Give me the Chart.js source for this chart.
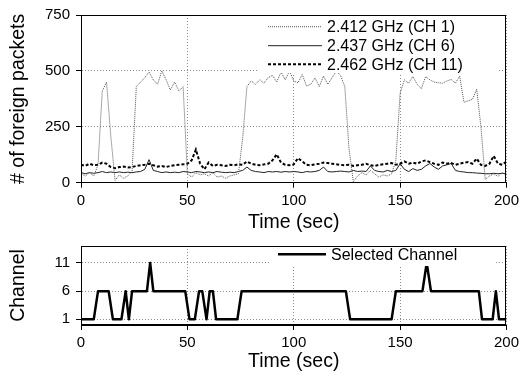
<!DOCTYPE html>
<html>
<head>
<meta charset="utf-8">
<script src="https://cdn.jsdelivr.net/npm/chart.js@4.4.1/dist/chart.umd.min.js"></script>
<style>
  html, body { margin: 0; padding: 0; background: #fff; }
  #wrap { position: relative; width: 523px; height: 377px; overflow: hidden; }
  #top { position: absolute; left: 0; top: 0; }
  #bottom { position: absolute; left: 0; top: 231px; }
</style>
</head>
<body>
<div id="wrap">
  <canvas id="top" width="523" height="238" style="width:523px;height:238px"></canvas>
  <canvas id="bottom" width="523" height="146" style="width:523px;height:146px"></canvas>
</div>
<script>
// Data

const times = [
  0, 2, 4, 6, 8, 10, 12, 14, 16, 18,
  20, 22, 24, 26, 28, 30, 32, 34, 36, 38,
  40, 42, 44, 46, 48, 50, 52, 54, 56, 58,
  60, 62, 64, 66, 68, 70, 72, 74, 76, 78,
  80, 82, 84, 86, 88, 90, 92, 94, 96, 98,
  100, 102, 104, 106, 108, 110, 112, 114, 116, 118,
  120, 122, 124, 126, 128, 130, 132, 134, 136, 138,
  140, 142, 144, 146, 148, 150, 152, 154, 156, 158,
  160, 162, 164, 166, 168, 170, 172, 174, 176, 178,
  180, 182, 184, 186, 188, 190, 192, 194, 196, 198,
  200
];

const ch1 = [
  40, 30, 45, 30, 80, 410, 450, 210, 10, 35,
  20, 30, 50, 430, 450, 470, 495, 460, 440, 500,
  460, 415, 450, 410, 430, 40, 25, 45, 35, 40,
  30, 45, 25, 30, 20, 30, 35, 40, 200, 430,
  455, 440, 460, 445, 470, 480, 450, 495, 460, 500,
  455, 447, 484, 432, 440, 469, 430, 477, 440, 470,
  499, 480, 430, 150, 5, 30, 45, 35, 55, 40,
  25, 35, 30, 40, 100, 400, 460, 445, 475, 440,
  420, 475, 460, 450, 447, 445, 455, 462, 445, 477,
  360, 366, 373, 418, 250, 15, 30, 40, 28, 45,
  35
];

const ch6 = [
  45, 40, 45, 42, 45, 50, 45, 48, 45, 48,
  45, 47, 45, 48, 50, 60, 103, 55, 50, 45,
  48, 45, 47, 45, 50, 48, 45, 50, 48, 45,
  48, 45, 50, 47, 45, 47, 45, 50, 55, 70,
  55, 50, 48, 45, 50, 48, 50, 47, 50, 48,
  50, 48, 45, 50, 48, 50, 55, 70, 50, 48,
  50, 52, 50, 48, 55, 50, 52, 50, 75, 55,
  50, 48, 55, 50, 55, 85, 60, 50, 63, 55,
  60, 75, 86, 70, 60, 75, 80, 86, 55, 50,
  48, 45, 45, 43, 42, 40, 40, 42, 40, 42,
  40
];

const ch11 = [
  80, 75, 85, 78, 80, 90, 85, 70, 65, 70,
  72, 68, 70, 75, 78, 80, 85, 78, 72, 75,
  70, 75, 78, 80, 82, 85, 100, 148, 85, 60,
  90, 75, 80, 78, 75, 80, 78, 82, 80, 95,
  85, 80, 78, 82, 85, 100, 127, 90, 80, 78,
  82, 110, 95, 80, 78, 82, 85, 90, 88, 85,
  82, 80, 78, 80, 75, 78, 80, 85, 78, 75,
  80, 82, 85, 88, 80, 85, 95, 85, 90, 85,
  95, 100, 92, 85, 80, 90, 85, 88, 80, 85,
  90, 92, 85, 108, 80, 75, 85, 120, 85, 80,
  95
];

const chanTimes = [0, 6, 8, 13, 15, 19, 21, 22.5, 24, 31, 32.5, 34, 49, 51, 53.5, 55.5, 57, 59, 60.5, 62,
  63.5, 73.5, 75.5, 124.5, 126.5, 146, 148, 160.5, 162.5, 164.5, 187, 188.5, 193.5, 195, 196.5, 200];
const chanValues = [1, 1, 6, 6, 1, 1, 6, 1, 6, 6, 11, 6, 6, 1, 1, 6, 6, 1, 6, 6,
  1, 1, 6, 6, 1, 1, 6, 6, 11, 6, 6, 1, 1, 6, 1, 1];

const seriesNames = ['2.412 GHz (CH 1)', '2.437 GHz (CH 6)', '2.462 GHz (CH 11)'];
const chanName = 'Selected Channel';
const packetTicks = [0, 250, 500, 750];
const timeTicks = [0, 50, 100, 150, 200];
const channelTicks = [1, 6, 11];

// helpers

const FONT = "'Liberation Sans', Arial, Helvetica, sans-serif";
Chart.defaults.font.family = FONT;
Chart.defaults.color = '#000';

const pts = (xs, ys) => xs.map((x, i) => ({ x: x, y: ys[i] }));

// black frame round the plot area
const framePlugin = {
  id: 'frame',
  afterDraw(chart) {
    const a = chart.chartArea;
    const ctx = chart.ctx;
    ctx.save();
    ctx.strokeStyle = '#000';
    ctx.lineWidth = 1;
    ctx.strokeRect(Math.round(a.left) + 0.5, Math.round(a.top) + 0.5,
      Math.round(a.right - a.left) - 1, Math.round(a.bottom - a.top) - 1);
    ctx.restore();
  }
};

// gnuplot-like key with a white box, drawn inside the plot
function keyPlugin(box, rows) {
  return {
    id: 'key',
    afterDatasetsDraw(chart) {
      const ctx = chart.ctx;
      ctx.save();
      ctx.fillStyle = '#fff';
      ctx.fillRect(box.x, box.y, box.w, box.h);
      ctx.font = '16px ' + FONT;
      ctx.textBaseline = 'middle';
      rows.forEach(r => {
        const ds = chart.data.datasets[r.index];
        ctx.strokeStyle = ds.borderColor;
        ctx.lineWidth = ds.borderWidth;
        ctx.setLineDash(ds.borderDash || []);
        ctx.beginPath();
        ctx.moveTo(r.x1, r.y);
        ctx.lineTo(r.x2, r.y);
        ctx.stroke();
        ctx.setLineDash([]);
        ctx.fillStyle = '#000';
        ctx.fillText(ds.label, r.x2 + 5, r.y + 1);
      });
      ctx.restore();
    }
  };
}

function axisX(height) {
  return {
    type: 'linear',
    min: 0,
    max: 200,
    afterBuildTicks: s => { s.ticks = timeTicks.map(v => ({ value: v })); },
    afterFit: s => { s.height = height; },
    ticks: { font: { size: 15 }, padding: 4, maxRotation: 0 },
    grid: { color: '#8a8a8a', tickColor: '#000', tickLength: 5, lineWidth: 1 },
    border: { color: '#000', dash: [1, 2] },
    title: { display: true, text: 'Time (sec)', font: { size: 19.5 }, padding: { top: 4, bottom: 4 } }
  };
}

// top chart: foreign packets

new Chart(document.getElementById('top'), {
  type: 'line',
  data: {
    datasets: [
      {
        label: seriesNames[0],
        data: pts(times, ch1),
        borderColor: '#555',
        borderWidth: 1,
        borderDash: [1, 1],
        pointRadius: 0,
        tension: 0
      },
      {
        label: seriesNames[1],
        data: pts(times, ch6),
        borderColor: '#222',
        borderWidth: 1,
        pointRadius: 0,
        tension: 0
      },
      {
        label: seriesNames[2],
        data: pts(times, ch11),
        borderColor: '#000',
        borderWidth: 2,
        borderDash: [3, 2],
        pointRadius: 0,
        tension: 0
      }
    ]
  },
  options: {
    responsive: false,
    animation: false,
    layout: { padding: { top: 12.5, right: 16, left: 3, bottom: 0 } },
    plugins: { legend: { display: false }, tooltip: { enabled: false } },
    scales: {
      x: axisX(55.3),
      y: {
        min: 0,
        max: 750,
        afterBuildTicks: s => { s.ticks = packetTicks.map(v => ({ value: v })); },
        afterFit: s => { s.width = 78; },
        ticks: { font: { size: 15 }, padding: 6 },
        grid: { color: '#8a8a8a', tickColor: '#000', tickLength: 5 },
        border: { color: '#000', dash: [1, 2] },
        title: { display: true, text: '# of foreign packets', font: { size: 19.5 }, padding: { top: 4, bottom: 4 } }
      }
    }
  },
  plugins: [
    keyPlugin({ x: 258, y: 15, w: 239, h: 58 }, [
      { index: 0, x1: 268, x2: 322, y: 26.7 },
      { index: 1, x1: 268, x2: 322, y: 45.7 },
      { index: 2, x1: 268, x2: 322, y: 64.3 }
    ]),
    framePlugin
  ]
});

// bottom chart: selected channel

new Chart(document.getElementById('bottom'), {
  type: 'line',
  data: {
    datasets: [{
      label: chanName,
      data: pts(chanTimes, chanValues),
      borderColor: '#000',
      borderWidth: 2.5,
      borderJoinStyle: 'round',
      pointRadius: 0,
      tension: 0
    }]
  },
  options: {
    responsive: false,
    animation: false,
    layout: { padding: { top: 9, right: 16, left: 3, bottom: 0 } },
    plugins: { legend: { display: false }, tooltip: { enabled: false } },
    scales: {
      x: axisX(52),
      y: {
        min: 0,
        max: 14,
        afterBuildTicks: s => { s.ticks = channelTicks.map(v => ({ value: v })); },
        afterFit: s => { s.width = 78; },
        ticks: { font: { size: 15 }, padding: 6 },
        grid: { color: '#8a8a8a', tickColor: '#000', tickLength: 5 },
        border: { color: '#000', dash: [1, 2] },
        title: { display: true, text: 'Channel', font: { size: 19.5 }, padding: { top: 4, bottom: 4 } }
      }
    }
  },
  plugins: [
    keyPlugin({ x: 270, y: 13, w: 225, h: 22 }, [
      { index: 0, x1: 278, x2: 326, y: 23.3 }
    ]),
    framePlugin
  ]
});
</script>
</body>
</html>
